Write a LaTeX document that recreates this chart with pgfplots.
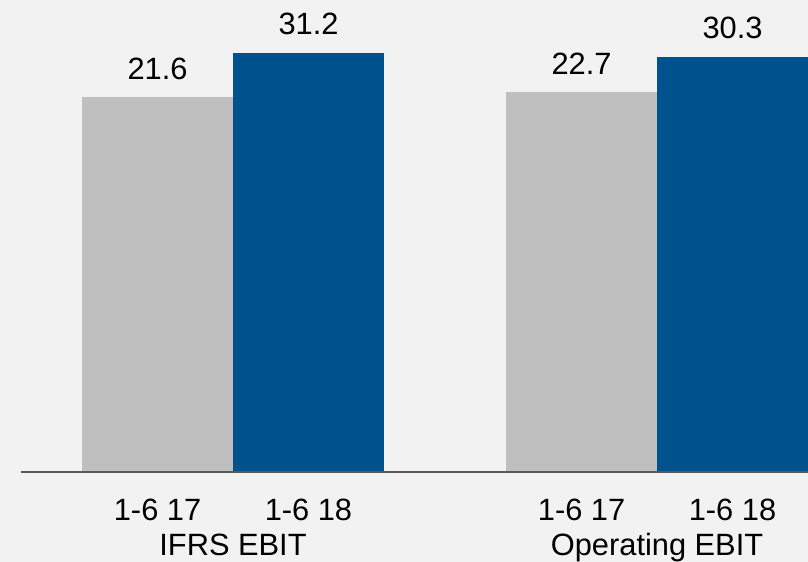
\documentclass[border=0pt]{standalone}
\usepackage{pgfplots}
\pgfplotsset{compat=1.18}
\usepackage{fontspec}
\setmainfont{Liberation Sans}

\definecolor{bg}{HTML}{F2F2F2}
\definecolor{barGray}{HTML}{BFBFBF}
\definecolor{barBlue}{HTML}{00528F}
\definecolor{axisLine}{HTML}{595959}

\begin{document}
\begin{tikzpicture}[
  lbl/.style={font=\fontsize{15.4bp}{18bp}\selectfont, inner sep=0pt, anchor=base, text=black},
]
\useasboundingbox (0bp,0bp) rectangle (404bp,281bp);
\fill[bg] (0bp,0bp) rectangle (404bp,281bp);
\begin{axis}[
  at={(10.5bp,45bp)}, anchor=south west,
  scale only axis, width=393.5bp, height=236bp,
  xmin=-0.5, xmax=1.356, ymin=-59, ymax=42.5,
  axis lines=none,
  clip=false,
]
% IFRS EBIT
\addplot[fill=barGray, draw=none] coordinates {(-0.356,-59) (-0.356,21.6) (0,21.6) (0,-59)} -- cycle;
\addplot[fill=barBlue, draw=none] coordinates {(0,-59) (0,31.2) (0.356,31.2) (0.356,-59)} -- cycle;
% Operating EBIT
\addplot[fill=barGray, draw=none] coordinates {(0.644,-59) (0.644,22.7) (1,22.7) (1,-59)} -- cycle;
\addplot[fill=barBlue, draw=none] coordinates {(1,-59) (1,30.3) (1.356,30.3) (1.356,-59)} -- cycle;

% value labels
\node[lbl, yshift=9bp] at (axis cs:-0.178,21.6) {21.6};
\node[lbl, yshift=9bp] at (axis cs:0.178,31.2) {31.2};
\node[lbl, yshift=9bp] at (axis cs:0.822,22.7) {22.7};
\node[lbl, yshift=9bp] at (axis cs:1.178,30.3) {30.3};

% baseline
\draw[axisLine, line width=0.8bp] (axis cs:-0.5,-59) -- (axis cs:1.5,-59);

% period labels
\node[lbl, yshift=-24bp] at (axis cs:-0.178,-59) {1-6 17};
\node[lbl, yshift=-24bp] at (axis cs:0.178,-59) {1-6 18};
\node[lbl, yshift=-24bp] at (axis cs:0.822,-59) {1-6 17};
\node[lbl, yshift=-24bp] at (axis cs:1.178,-59) {1-6 18};
% category labels
\node[lbl, yshift=-41.5bp] at (axis cs:0,-59) {IFRS EBIT};
\node[lbl, yshift=-41.5bp] at (axis cs:1,-59) {Operating EBIT};
\end{axis}
\end{tikzpicture}
\end{document}
